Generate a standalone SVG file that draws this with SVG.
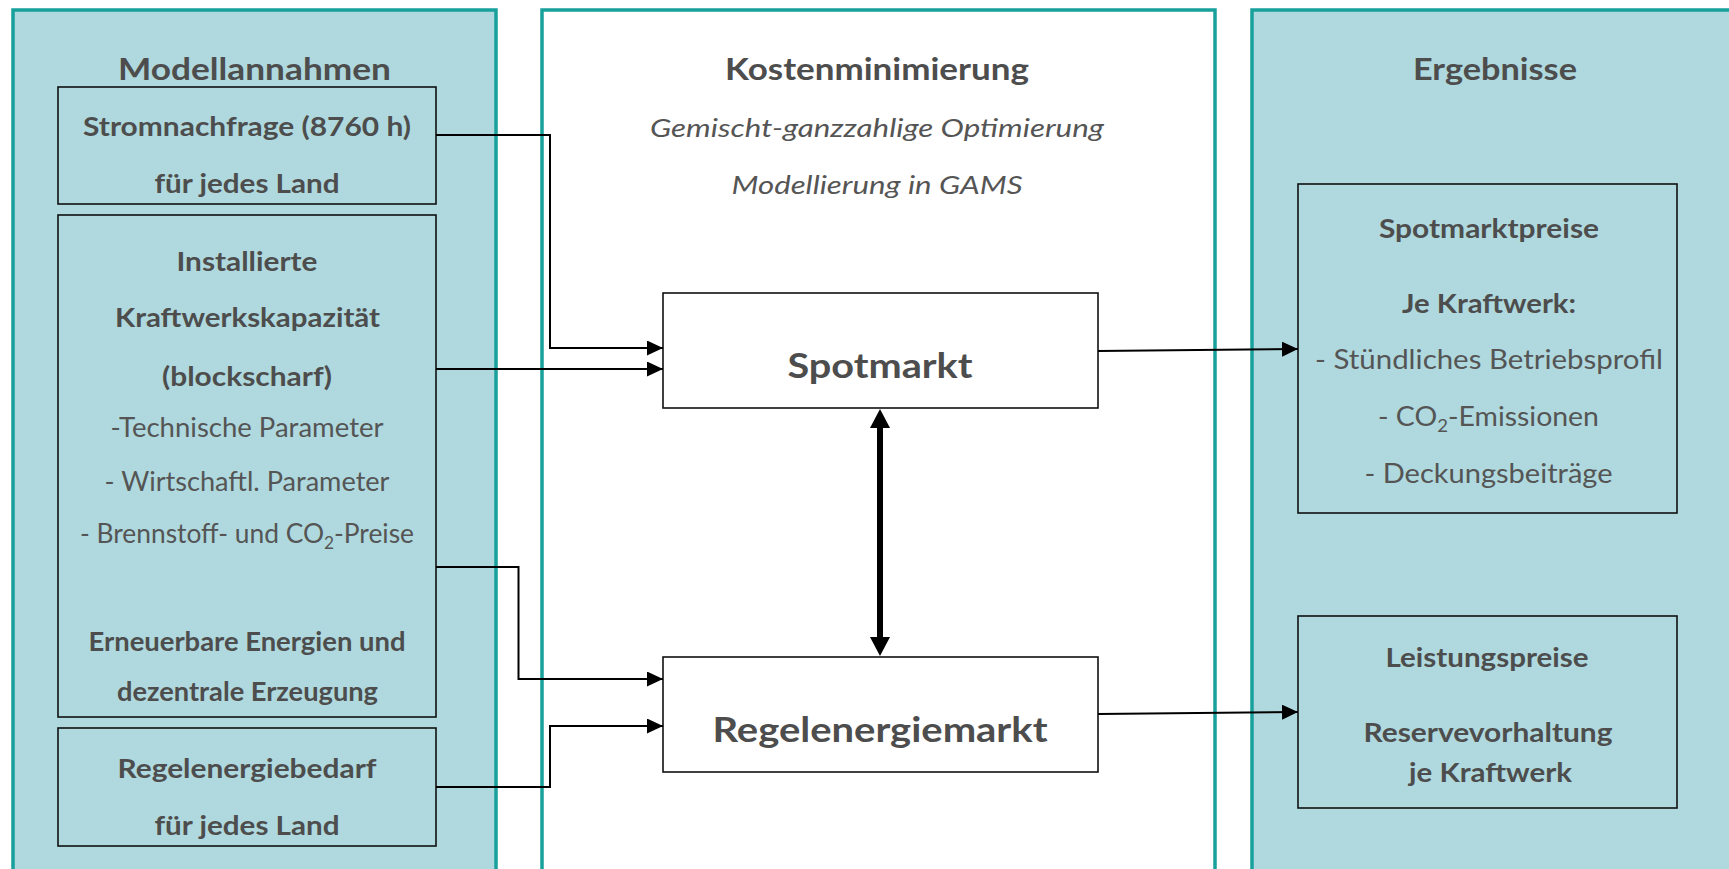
<svg xmlns="http://www.w3.org/2000/svg" width="1729" height="869" viewBox="0 0 1729 869">
<defs>
<style>
.panel{fill:#afd9de;stroke:#17a09c;stroke-width:3.5}
.panelw{fill:#ffffff;stroke:#17a09c;stroke-width:3.5}
.box{fill:#afd9de;stroke:#111;stroke-width:1.6}
.boxw{fill:#ffffff;stroke:#111;stroke-width:1.6}
text{font-family:Lato,"Liberation Sans",sans-serif;fill:#4d4d4d;text-anchor:middle}
.t{font-size:30px;font-weight:bold}
.b{font-size:26px;font-weight:bold}
.r{font-size:26px;fill:#555}
.i{font-size:26px;font-style:italic;fill:#555}
.big{font-size:35px;font-weight:bold}
.con{fill:none;stroke:#000;stroke-width:2}
.thick{fill:none;stroke:#000;stroke-width:6}
</style>
<marker id="arr" markerUnits="userSpaceOnUse" markerWidth="16" markerHeight="15" refX="16" refY="7.5" orient="auto"><path d="M0,0 L16,7.5 L0,15 z" fill="#000"/></marker>
<marker id="arrT" markerUnits="userSpaceOnUse" markerWidth="19" markerHeight="20" refX="0" refY="10" orient="auto-start-reverse"><path d="M0,0 L19,10 L0,20 z" fill="#000"/></marker>
</defs>

<g id="panel-modellannahmen">
<rect class="panel" x="13" y="10" width="483" height="900"/>
<text class="t" x="254.5" y="80" textLength="273" lengthAdjust="spacingAndGlyphs">Modellannahmen</text>
</g>
<g id="panel-kostenminimierung">
<rect class="panelw" x="542" y="10" width="673" height="900"/>
<text class="t" x="877" y="80" textLength="304" lengthAdjust="spacingAndGlyphs">Kostenminimierung</text>
<text class="i" x="877" y="137" textLength="454" lengthAdjust="spacingAndGlyphs">Gemischt-ganzzahlige Optimierung</text>
<text class="i" x="877" y="194" textLength="291" lengthAdjust="spacingAndGlyphs">Modellierung in GAMS</text>
</g>
<g id="panel-ergebnisse">
<rect class="panel" x="1252" y="10" width="520" height="900"/>
<text class="t" x="1495" y="80" textLength="164" lengthAdjust="spacingAndGlyphs">Ergebnisse</text>
</g>

<g id="node-stromnachfrage">
<rect class="box" x="58" y="87" width="378" height="117"/>
<text class="b" x="247" y="136" textLength="328" lengthAdjust="spacingAndGlyphs">Stromnachfrage (8760 h)</text>
<text class="b" x="247" y="193" textLength="185" lengthAdjust="spacingAndGlyphs">für jedes Land</text>
</g>
<g id="node-kraftwerke">
<rect class="box" x="58" y="215" width="378" height="502"/>
<text class="b" x="247" y="271" textLength="141" lengthAdjust="spacingAndGlyphs">Installierte</text>
<text class="b" x="247.5" y="327" textLength="265" lengthAdjust="spacingAndGlyphs">Kraftwerkskapazität</text>
<text class="b" x="247" y="386" textLength="170" lengthAdjust="spacingAndGlyphs">(blockscharf)</text>
<text class="r" x="247" y="437" textLength="273" lengthAdjust="spacingAndGlyphs">-Technische Parameter</text>
<text class="r" x="247" y="491" textLength="285" lengthAdjust="spacingAndGlyphs">- Wirtschaftl. Parameter</text>
<text class="r" x="247" y="543" textLength="334" lengthAdjust="spacingAndGlyphs">- Brennstoff- und CO<tspan font-size="17" dy="6">2</tspan><tspan dy="-6">-Preise</tspan></text>
<text class="b" x="247" y="651" textLength="317" lengthAdjust="spacingAndGlyphs">Erneuerbare Energien und</text>
<text class="b" x="247.5" y="701" textLength="261" lengthAdjust="spacingAndGlyphs">dezentrale Erzeugung</text>
</g>
<g id="node-regelenergiebedarf">
<rect class="box" x="58" y="728" width="378" height="118"/>
<text class="b" x="247" y="778" textLength="259" lengthAdjust="spacingAndGlyphs">Regelenergiebedarf</text>
<text class="b" x="247" y="835" textLength="185" lengthAdjust="spacingAndGlyphs">für jedes Land</text>
</g>

<g id="node-spotmarkt">
<rect class="boxw" x="663" y="293" width="435" height="115"/>
<text class="big" x="880" y="378" textLength="185" lengthAdjust="spacingAndGlyphs">Spotmarkt</text>
</g>
<g id="node-regelenergiemarkt">
<rect class="boxw" x="663" y="657" width="435" height="115"/>
<text class="big" x="880" y="742" textLength="335" lengthAdjust="spacingAndGlyphs">Regelenergiemarkt</text>
</g>

<g id="node-spotmarktpreise">
<rect class="box" x="1298" y="184" width="379" height="329"/>
<text class="b" x="1489" y="238" textLength="220" lengthAdjust="spacingAndGlyphs">Spotmarktpreise</text>
<text class="b" x="1489" y="313" textLength="174" lengthAdjust="spacingAndGlyphs">Je Kraftwerk:</text>
<text class="r" x="1489" y="369" textLength="348" lengthAdjust="spacingAndGlyphs">- Stündliches Betriebsprofil</text>
<text class="r" x="1488.5" y="426" textLength="221" lengthAdjust="spacingAndGlyphs">- CO<tspan font-size="17" dy="6">2</tspan><tspan dy="-6">-Emissionen</tspan></text>
<text class="r" x="1488.5" y="483" textLength="248" lengthAdjust="spacingAndGlyphs">- Deckungsbeiträge</text>
</g>
<g id="node-leistungspreise">
<rect class="box" x="1298" y="616" width="379" height="192"/>
<text class="b" x="1487" y="667" textLength="203" lengthAdjust="spacingAndGlyphs">Leistungspreise</text>
<text class="b" x="1488" y="742" textLength="249" lengthAdjust="spacingAndGlyphs">Reservevorhaltung</text>
<text class="b" x="1490.5" y="782" textLength="163" lengthAdjust="spacingAndGlyphs">je Kraftwerk</text>
</g>

<g id="connectors">
<path class="con" d="M436,135 H550 V348 H663" marker-end="url(#arr)"/>
<path class="con" d="M436,369 H663" marker-end="url(#arr)"/>
<path class="con" d="M436,567 H518.5 V679 H663" marker-end="url(#arr)"/>
<path class="con" d="M436,787 H550 V726 H663" marker-end="url(#arr)"/>
<path class="con" d="M1098,351 L1298,349" marker-end="url(#arr)"/>
<path class="con" d="M1098,714 L1298,712" marker-end="url(#arr)"/>
<path class="thick" d="M880,428 V637" marker-start="url(#arrT)" marker-end="url(#arrT)"/>
</g>
</svg>
